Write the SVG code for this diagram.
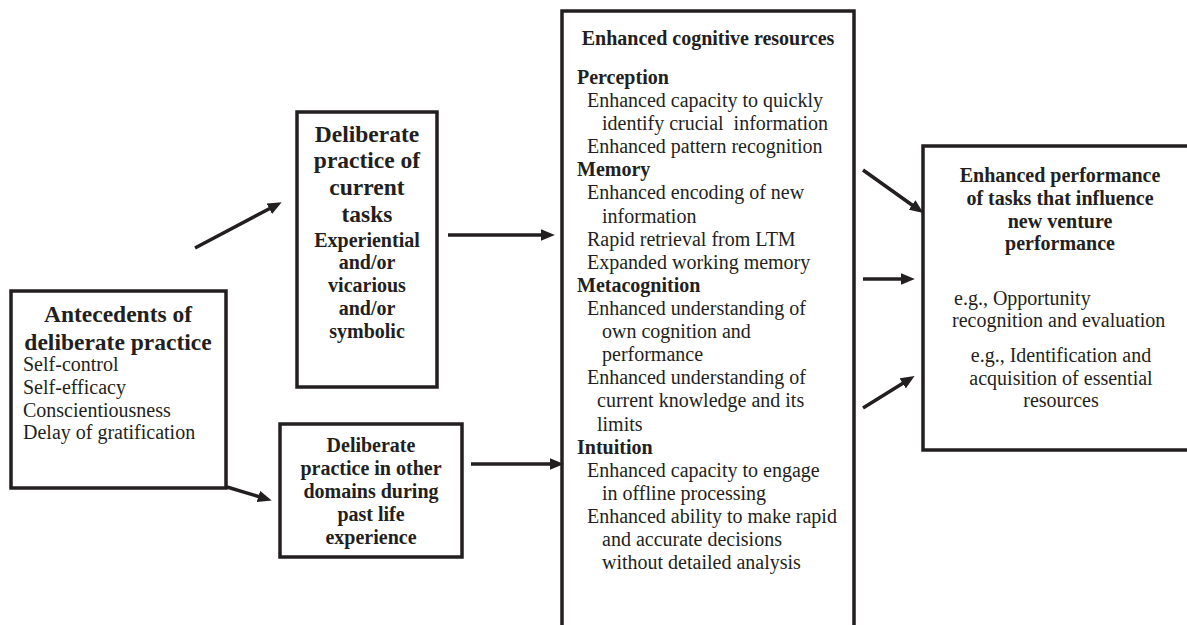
<svg xmlns="http://www.w3.org/2000/svg" width="1187" height="625" viewBox="0 0 1187 625">
<style>
.box{fill:#fff;stroke:#231f20;stroke-width:3.5}
.t{font-family:"Liberation Serif","Times New Roman",serif;fill:#231f20}
.b{font-weight:bold}
.c{text-anchor:middle}
.r20{font-size:20px}
.b23{font-size:23.5px;font-weight:bold}
.conn line{stroke:#231f20;stroke-width:3.5;marker-end:url(#ah)}
</style>
<defs>
<marker id="ah" markerUnits="userSpaceOnUse" markerWidth="14" markerHeight="12" refX="2" refY="5.5" orient="auto" viewBox="0 0 13 11">
<path d="M0,0 L13,5.5 L0,11 z" fill="#231f20"/>
</marker>
</defs>
<rect width="1187" height="625" fill="#fff"/>

<g id="antecedents">
<rect class="box" x="11" y="291" width="215" height="197"/>
<text class="t b23 c" x="118" y="322">Antecedents of</text>
<text class="t b23 c" x="118" y="350">deliberate practice</text>
<text class="t r20" x="23" y="371">Self-control</text>
<text class="t r20" x="23" y="394">Self-efficacy</text>
<text class="t r20" x="23" y="417">Conscientiousness</text>
<text class="t r20" x="23" y="439">Delay of gratification</text>
</g>

<g id="current-tasks">
<rect class="box" x="297" y="112" width="140" height="275"/>
<text class="t b23 c" x="367" y="142">Deliberate</text>
<text class="t b23 c" x="367" y="168">practice of</text>
<text class="t b23 c" x="367" y="195">current</text>
<text class="t b23 c" x="367" y="222">tasks</text>
<text class="t b r20 c" x="367" y="247">Experiential</text>
<text class="t b r20 c" x="367" y="269">and/or</text>
<text class="t b r20 c" x="367" y="292">vicarious</text>
<text class="t b r20 c" x="367" y="315">and/or</text>
<text class="t b r20 c" x="367" y="338">symbolic</text>
</g>

<g id="other-domains">
<rect class="box" x="280" y="424" width="182" height="133"/>
<text class="t b r20 c" x="371" y="452">Deliberate</text>
<text class="t b r20 c" x="371" y="475">practice in other</text>
<text class="t b r20 c" x="371" y="498">domains during</text>
<text class="t b r20 c" x="371" y="521">past life</text>
<text class="t b r20 c" x="371" y="544">experience</text>
</g>

<g id="cognitive-resources">
<rect class="box" x="562" y="11" width="292" height="640"/>
<text class="t b r20 c" x="708" y="45">Enhanced cognitive resources</text>
<text class="t b r20" x="577" y="84">Perception</text>
<text class="t r20" x="587" y="107">Enhanced capacity to quickly</text>
<text class="t r20" x="602" y="130" xml:space="preserve">identify crucial  information</text>
<text class="t r20" x="587" y="153">Enhanced pattern recognition</text>
<text class="t b r20" x="577" y="176">Memory</text>
<text class="t r20" x="587" y="199">Enhanced encoding of new</text>
<text class="t r20" x="602" y="223">information</text>
<text class="t r20" x="587" y="246">Rapid retrieval from LTM</text>
<text class="t r20" x="587" y="269">Expanded working memory</text>
<text class="t b r20" x="577" y="292">Metacognition</text>
<text class="t r20" x="587" y="315">Enhanced understanding of</text>
<text class="t r20" x="602" y="338">own cognition and</text>
<text class="t r20" x="602" y="361">performance</text>
<text class="t r20" x="587" y="384">Enhanced understanding of</text>
<text class="t r20" x="597" y="407">current knowledge and its</text>
<text class="t r20" x="597" y="431">limits</text>
<text class="t b r20" x="577" y="454">Intuition</text>
<text class="t r20" x="587" y="477">Enhanced capacity to engage</text>
<text class="t r20" x="602" y="500">in offline processing</text>
<text class="t r20" x="587" y="523">Enhanced ability to make rapid</text>
<text class="t r20" x="602" y="546">and accurate decisions</text>
<text class="t r20" x="602" y="569">without detailed analysis</text>
</g>

<g id="enhanced-performance">
<rect class="box" x="923" y="146" width="290" height="304"/>
<text class="t b r20 c" x="1060" y="182">Enhanced performance</text>
<text class="t b r20 c" x="1060" y="205">of tasks that influence</text>
<text class="t b r20 c" x="1060" y="228">new venture</text>
<text class="t b r20 c" x="1060" y="250">performance</text>
<text class="t r20" x="954" y="305">e.g., Opportunity</text>
<text class="t r20" x="952" y="327">recognition and evaluation</text>
<text class="t r20 c" x="1061" y="362">e.g., Identification and</text>
<text class="t r20 c" x="1061" y="385">acquisition of essential</text>
<text class="t r20 c" x="1061" y="407">resources</text>
</g>

<g id="connectors" class="conn">
<line x1="195" y1="248" x2="271.2" y2="207.7"/>
<line x1="448" y1="235" x2="543" y2="235"/>
<line x1="227" y1="487" x2="260.4" y2="497.1"/>
<line x1="471" y1="464" x2="552" y2="464"/>
<line x1="863" y1="170" x2="913.8" y2="206.2"/>
<line x1="863" y1="279" x2="903" y2="279"/>
<line x1="863" y1="408" x2="904.5" y2="382.3"/>
</g>
</svg>
